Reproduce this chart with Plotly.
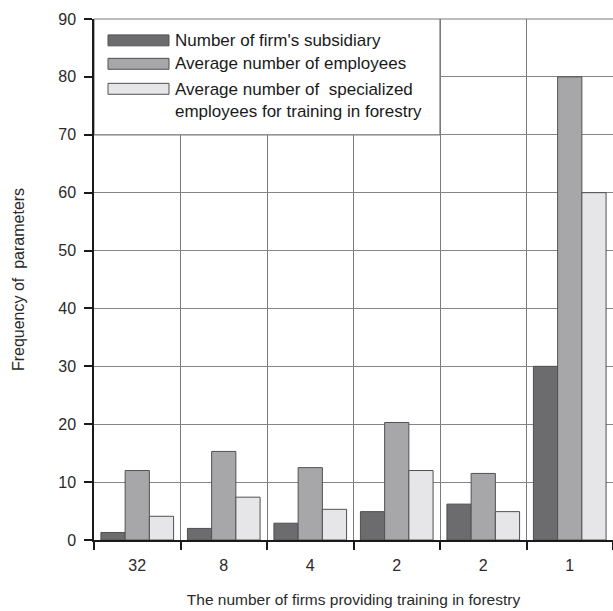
import plotly.graph_objects as go

categories = ["32", "8", "4", "2", "2", "1"]
series_names = [
    "Number of firm's subsidiary",
    "Average number of employees",
    "Average number of  specialized<br>employees for training in forestry",
]
subsidiaries = [1.3, 2.0, 2.9, 4.9, 6.2, 30]
avg_employees = [12.0, 15.3, 12.5, 20.3, 11.5, 80]
avg_specialized = [4.1, 7.4, 5.3, 12.0, 4.9, 60]
colors = ["#6c6c6f", "#a7a7aa", "#e6e6e8"]

FONT = "Liberation Sans, Arial, sans-serif"
x = list(range(len(categories)))

fig = go.Figure()
for name, vals, col in zip(series_names, [subsidiaries, avg_employees, avg_specialized], colors):
    fig.add_trace(go.Bar(x=x, y=vals, name=name, marker=dict(color=col, line=dict(color="#505050", width=1)),
                         showlegend=False))

fig.update_layout(
    width=613, height=611,
    margin=dict(l=94, r=0, t=19, b=71),
    paper_bgcolor="white", plot_bgcolor="white",
    barmode="group", bargap=0.16, bargroupgap=0,
    font=dict(family=FONT, size=16, color="#2a2a2a"),
)
fig.update_xaxes(
    range=[-0.5, 5.5], tickmode="array", tickvals=x, ticktext=categories, ticks="",
    ticklabelstandoff=10,
    showgrid=False, showline=True, linecolor="#1a1a1a", linewidth=1.5, zeroline=False,
    minor=dict(tickmode="array", tickvals=[i - 0.5 for i in range(len(categories) + 1)],
               ticks="outside", ticklen=8, tickcolor="#1a1a1a", tickwidth=1.5,
               showgrid=True, gridcolor="#7a7a7a", gridwidth=1.2),
    title=dict(text="The number of firms providing training in forestry", font=dict(size=15.5), standoff=21),
)
fig.update_yaxes(
    range=[0, 90], tickmode="linear", tick0=0, dtick=10, ticks="outside", ticklen=8,
    ticklabelstandoff=5,
    tickcolor="#1a1a1a", tickwidth=1.5, showline=True, linecolor="#1a1a1a", linewidth=1.5,
    showgrid=True, gridcolor="#858585", gridwidth=1.2, zeroline=False,
    title=dict(text="Frequency of  parameters", font=dict(size=16), standoff=30),
)

# top border line
fig.add_shape(type="line", xref="paper", yref="paper", x0=0, x1=1, y0=1, y1=1,
              line=dict(color="#7a7a7a", width=1.2))
# legend box
fig.add_shape(type="rect", xref="x", yref="y", x0=-0.5, x1=3.5, y0=70, y1=90,
              fillcolor="white", line=dict(color="#7a7a7a", width=1.2), layer="above")
sw_y = [0.959, 0.914, 0.866]
txt_y = [0.959, 0.914, 0.843]
for name, col, sy, ty in zip(series_names, colors, sw_y, txt_y):
    fig.add_shape(type="rect", xref="paper", yref="paper", x0=0.027, x1=0.1445, y0=sy - 0.0105, y1=sy + 0.0105,
                  fillcolor=col, line=dict(color="#505050", width=1), layer="above")
    fig.add_annotation(xref="paper", yref="paper", x=0.152, y=ty, xanchor="left", yanchor="middle",
                       text=name, showarrow=False, align="left", font=dict(size=17, color="#1a1a1a"))

fig.write_html("out.html", config={"displayModeBar": False},
               post_script="document.body.style.margin='0';document.body.style.overflow='hidden';")
